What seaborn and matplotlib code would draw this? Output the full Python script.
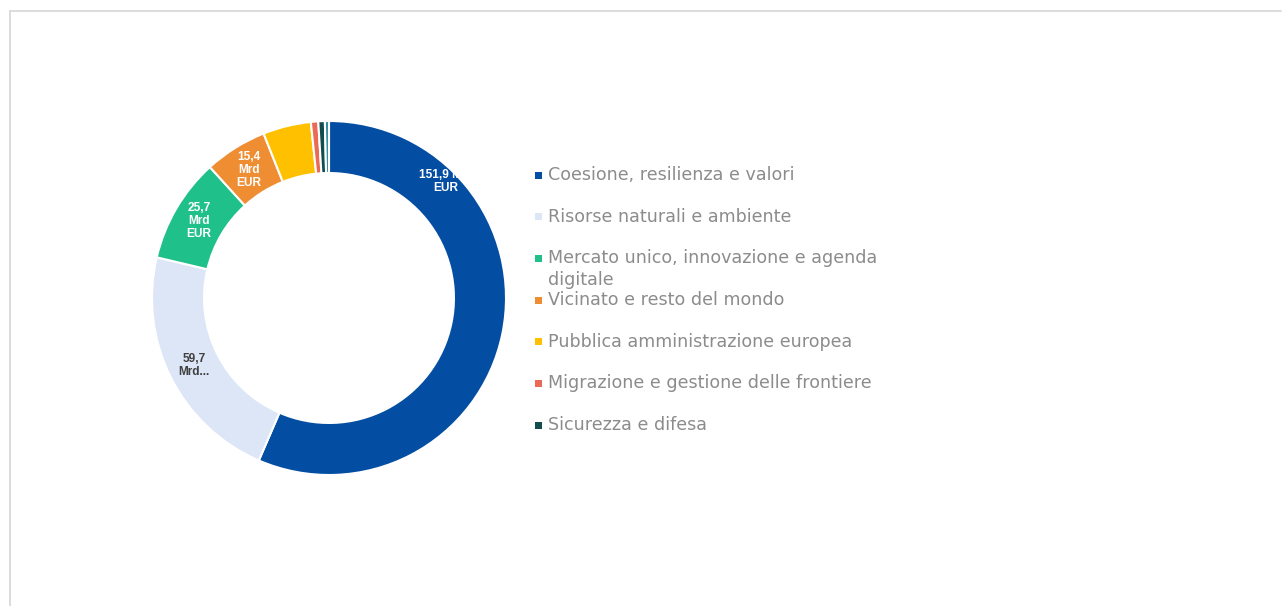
import numpy as np
import matplotlib
matplotlib.use("Agg")
import matplotlib.pyplot as plt
import seaborn as sns
from matplotlib.lines import Line2D
from matplotlib.patches import Rectangle

categories = [
    "Coesione, resilienza e valori",
    "Risorse naturali e ambiente",
    "Mercato unico, innovazione e agenda\ndigitale",
    "Vicinato e resto del mondo",
    "Pubblica amministrazione europea",
    "Migrazione e gestione delle frontiere",
    "Sicurezza e difesa",
    "",
]
values = [151.9, 59.7, 25.7, 15.4, 11.8, 1.8, 1.6, 1.0]
value_labels = ["151,9 Mrd\nEUR", "59,7\nMrd...", "25,7\nMrd\nEUR", "15,4\nMrd\nEUR", "", "", "", ""]
colors = ["#034ea2", "#dce6f6", "#20c08a", "#ef8d33", "#ffc000", "#ea6a55", "#124c4c", "#2b8d9a"]
label_colors = ["white", "#404040", "white", "white", "white", "white", "white", "white"]

sns.set_theme(style="white")
plt.rcParams["font.family"] = ["DejaVu Sans"]

W, H = 1282, 606
fig = plt.figure(figsize=(W / 100, H / 100), dpi=100)
fig.patch.set_facecolor("white")

# frame
fig.add_artist(Line2D([10 / W, 1281 / W], [1 - 11 / H, 1 - 11 / H], color="#d9d9d9", lw=1.3))
fig.add_artist(Line2D([10 / W, 10 / W], [1 - 11 / H, 0], color="#d9d9d9", lw=1.3))

cx, cy, R = 329, 298, 177
ax = fig.add_axes([(cx - R) / W, (H - cy - R) / H, 2 * R / W, 2 * R / H])
wedges, _ = ax.pie(values, colors=sns.color_palette(colors), startangle=90, counterclock=False,
                   radius=1.0, wedgeprops=dict(width=0.294, edgecolor="white", linewidth=1.5))
ax.set_xlim(-1, 1)
ax.set_ylim(-1, 1)
ax.set_axis_off()

mid_r = 1 - 0.294 / 2
for i, (w, lab) in enumerate(zip(wedges, value_labels)):
    if not lab:
        continue
    if i == 0:
        x, y = 0.66, 0.66
    else:
        ang = np.deg2rad((w.theta1 + w.theta2) / 2)
        x, y = mid_r * np.cos(ang), mid_r * np.sin(ang)
    ax.text(x, y, lab, ha="center", va="center", color=label_colors[i], fontsize=8.6,
            fontweight="bold", family=["Liberation Sans", "DejaVu Sans"], linespacing=1.1)

# legend
lx, ly0, dy, line_h = 538, 175, 41.7, 22
for i, cat in enumerate(categories):
    if not cat:
        continue
    y = ly0 + i * dy
    fig.add_artist(Rectangle(((lx - 3.5) / W, 1 - (y + 3.5) / H), 7 / W, 7 / H,
                             transform=fig.transFigure, color=colors[i], lw=0))
    for k, line in enumerate(cat.split("\n")):
        fig.text((lx + 10) / W, 1 - (y + k * line_h) / H, line, ha="left", va="center",
                 fontsize=12.6, color="#8c8c8c")

fig.savefig("out.png", dpi=100, facecolor="white")
